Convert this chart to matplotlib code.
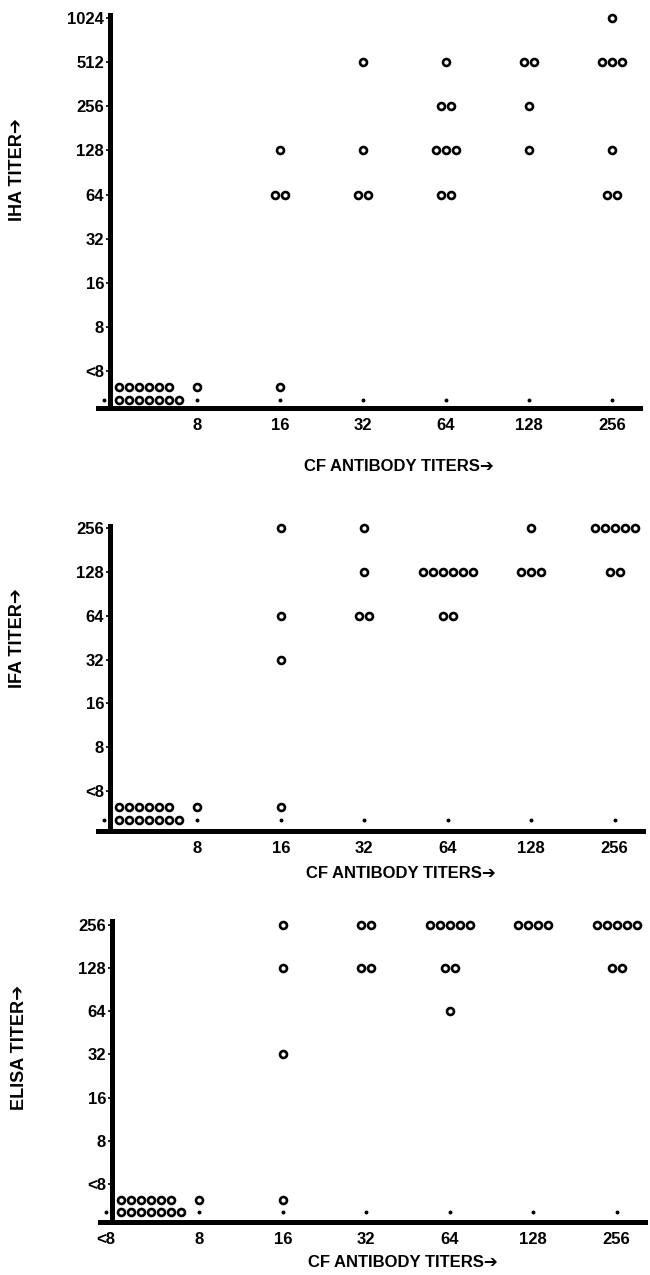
#!/usr/bin/env python3

import matplotlib
matplotlib.use('Agg')
from matplotlib import pyplot as plt
import numpy as np

plt.rcParams['font.family'] = ['Liberation Sans', 'DejaVu Sans']
plt.rcParams['font.weight'] = 'bold'

cf_titers = ['<8', '8', '16', '32', '64', '128', '256']
iha_ticks = ['<8', '8', '16', '32', '64', '128', '256', '512', '1024']
ifa_ticks = ['<8', '8', '16', '32', '64', '128', '256']
elisa_ticks = ['<8', '8', '16', '32', '64', '128', '256']

# (CF titer, serologic titer, number of sera)
iha_counts = [
    ('<8', '<8', 13), ('8', '<8', 1),
    ('16', '<8', 1), ('16', '64', 2), ('16', '128', 1),
    ('32', '64', 2), ('32', '128', 1), ('32', '512', 1),
    ('64', '64', 2), ('64', '128', 3), ('64', '256', 2), ('64', '512', 1),
    ('128', '128', 1), ('128', '256', 1), ('128', '512', 2),
    ('256', '64', 2), ('256', '128', 1), ('256', '512', 3), ('256', '1024', 1),
]
ifa_counts = [
    ('<8', '<8', 13), ('8', '<8', 1),
    ('16', '<8', 1), ('16', '32', 1), ('16', '64', 1), ('16', '256', 1),
    ('32', '64', 2), ('32', '128', 1), ('32', '256', 1),
    ('64', '64', 2), ('64', '128', 6),
    ('128', '128', 3), ('128', '256', 1),
    ('256', '128', 2), ('256', '256', 5),
]
elisa_counts = [
    ('<8', '<8', 13), ('8', '<8', 1),
    ('16', '<8', 1), ('16', '32', 1), ('16', '128', 1), ('16', '256', 1),
    ('32', '128', 2), ('32', '256', 2),
    ('64', '64', 1), ('64', '128', 2), ('64', '256', 5),
    ('128', '256', 4),
    ('256', '128', 2), ('256', '256', 5),
]

# layout (log2 units)
AXIS_X = 1.95      # where the vertical axis sits
LOW_X = 1.88       # the "<8" CF column
STEP = 0.12        # spacing between neighbouring circles
ROW_TOP = 1.64     # rows under the "<8" y tick
ROW_BOT = 1.34
ROW_MAX = 7
ARROW = '\u2794'


def lvl(label):
    return 2.0 if label == '<8' else np.log2(int(label))


def cf_x(label):
    return LOW_X if label == '<8' else np.log2(int(label))


def draw_panel(ax, counts, yticks, ylabel, ylim, show_low_label, ylab_y, xlab_y):
    xs, ys = [], []
    for cf, t, n in counts:
        if t == '<8' and cf == '<8':
            # left aligned rows next to the axis, bottom row filled first
            bot = min(n, ROW_MAX)
            for i in range(bot):
                xs.append(AXIS_X + 0.11 + i * STEP)
                ys.append(ROW_BOT)
            for i in range(n - bot):
                xs.append(AXIS_X + 0.11 + i * STEP)
                ys.append(ROW_TOP)
        else:
            y = ROW_TOP if t == '<8' else lvl(t)
            x0 = cf_x(cf) - (n - 1) * STEP / 2
            for i in range(n):
                xs.append(x0 + i * STEP)
                ys.append(y)
    ax.plot(xs, ys, 'o', ms=5, mfc='white', mec='black', mew=1.9,
            ls='none', zorder=3, clip_on=False)

    # small tick dots above the x axis
    dot_x = [cf_x(c) for c in cf_titers]
    ax.plot(dot_x, [ROW_BOT] * len(dot_x), 'o', ms=1.8, color='black',
            ls='none', zorder=3)
    ax.set_xlim(1.81, 8.34)
    ax.set_ylim(*ylim)

    for s in ['top', 'right']:
        ax.spines[s].set_visible(False)
    ax.spines['left'].set_position(('data', AXIS_X))
    ax.spines['left'].set_linewidth(3.6)
    ax.spines['bottom'].set_linewidth(3.6)

    ax.set_yticks([lvl(t) for t in yticks], yticks)
    ax.tick_params(axis='y', direction='out', length=3, width=1.2, pad=1,
                   labelsize=12)
    labels = cf_titers if show_low_label else [''] + cf_titers[1:]
    ax.set_xticks([cf_x(c) for c in cf_titers], labels)
    ax.tick_params(axis='x', length=0, pad=7, labelsize=12)

    ax.text(-0.148, ylab_y, ylabel + ARROW, rotation=90, transform=ax.transAxes,
            ha='center', va='center', fontsize=13, fontweight='bold')
    ax.text(0.555, xlab_y, 'CF ANTIBODY TITERS' + ARROW, transform=ax.transAxes,
            ha='center', va='center', fontsize=12, fontweight='bold')


fig = plt.figure(figsize=(6.5, 12.75), dpi=100)
ax1 = fig.add_axes([98 / 650, 1 - 408 / 1275, 542 / 650, 393 / 1275])
ax2 = fig.add_axes([98 / 650, 1 - 831 / 1275, 545 / 650, 305 / 1275])
ax3 = fig.add_axes([100 / 650, 1 - 1222 / 1275, 545 / 650, 301 / 1275])

draw_panel(ax1, iha_counts, iha_ticks, 'IHA TITER', (1.16, 10.07), False, 0.606, -0.15)
draw_panel(ax2, ifa_counts, ifa_ticks, 'IFA TITER', (1.09, 8.05), False, 0.633, -0.138)
draw_panel(ax3, elisa_counts, elisa_ticks, 'ELISA TITER', (1.12, 8.09), True, 0.58, -0.136)

plt.savefig('out.png', dpi=100)
plt.close()
